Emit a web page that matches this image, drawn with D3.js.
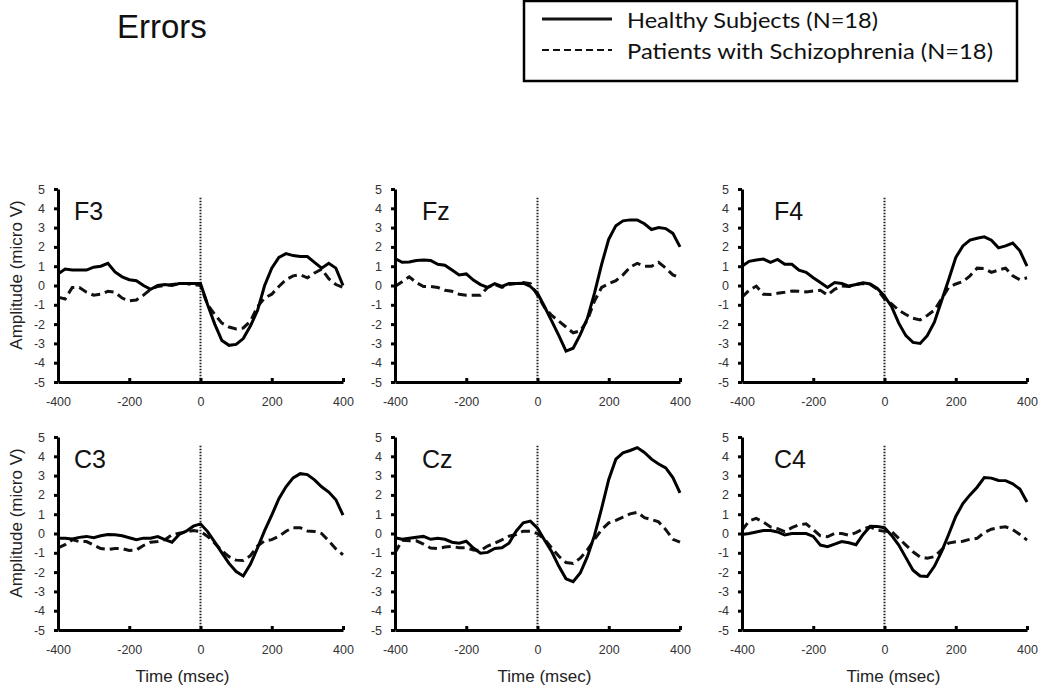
<!DOCTYPE html>
<html>
<head>
<meta charset="utf-8">
<script src="https://cdn.jsdelivr.net/npm/d3@7"></script>
<style>
  body { margin: 0; background: #fff; }
  svg { display: block; font-family: "Liberation Sans", Arial, sans-serif; }
  .axis path, .axis line { stroke: #000; stroke-width: 3; }
  .axis text { font-size: 12.5px; fill: #333; font-family: "Liberation Sans", Arial, sans-serif; }
</style>
</head>
<body>
<svg id="chart" width="1050" height="689"></svg>
<script>
// time points (msec)
var times = [-400, -380, -360, -340, -320, -300, -280, -260, -240, -220, -200,
  -180, -160, -140, -120, -100, -80, -60, -40, -20, 0,
  20, 40, 60, 80, 100, 120, 140, 160, 180, 200,
  220, 240, 260, 280, 300, 320, 340, 360, 380, 400];

// amplitudes (micro V)
var f3Healthy = [0.6, 0.85, 0.8, 0.8, 0.8, 0.95, 1.0, 1.15, 0.7, 0.45, 0.3, 0.25, 0.0, -0.2, 0.0, 0.05, 0.0, 0.1, 0.1, 0.1, 0.1,
  -1.0, -2.0, -2.85, -3.1, -3.05, -2.75, -2.1, -1.3, 0.0, 0.9, 1.45, 1.65, 1.55, 1.5, 1.5, 1.2, 0.9, 1.15, 0.9, 0.0];
var f3Patients = [-0.6, -0.7, -0.1, -0.1, -0.35, -0.5, -0.45, -0.3, -0.35, -0.65, -0.8, -0.75, -0.5, -0.2, -0.05, 0.0, 0.05, 0.1, 0.1, 0.05, 0.0,
  -1.0, -1.5, -1.95, -2.15, -2.25, -2.2, -1.85, -1.1, -0.65, -0.45, -0.05, 0.3, 0.5, 0.55, 0.4, 0.65, 0.85, 0.35, 0.05, -0.1];

var fzHealthy = [1.4, 1.2, 1.22, 1.3, 1.32, 1.3, 1.1, 1.05, 0.8, 0.55, 0.6, 0.28, 0.05, -0.1, 0.1, -0.05, 0.1, 0.1, 0.12, -0.05, -0.4,
  -1.1, -1.85, -2.6, -3.4, -3.25, -2.55, -1.7, -0.4, 1.1, 2.4, 3.1, 3.35, 3.4, 3.4, 3.2, 2.9, 3.0, 2.95, 2.7, 2.0];
var fzPatients = [-0.05, 0.2, 0.45, 0.15, -0.05, -0.05, -0.1, -0.25, -0.3, -0.45, -0.5, -0.5, -0.5, -0.1, 0.05, -0.1, 0.05, 0.1, 0.15, 0.1, -0.5,
  -1.15, -1.55, -1.85, -2.15, -2.45, -2.35, -1.8, -0.8, -0.1, 0.1, 0.25, 0.55, 0.95, 1.15, 1.0, 1.0, 1.2, 0.9, 0.55, 0.4];

var f4Healthy = [1.0, 1.25, 1.32, 1.37, 1.2, 1.35, 1.1, 1.1, 0.8, 0.68, 0.4, 0.15, -0.1, 0.15, 0.1, -0.03, 0.05, 0.14, 0.08, -0.15, -0.55,
  -1.1, -1.95, -2.6, -2.95, -3.0, -2.6, -1.9, -0.8, 0.3, 1.45, 2.05, 2.35, 2.45, 2.52, 2.35, 1.95, 2.05, 2.2, 1.8, 1.0];
var f4Patients = [-0.6, -0.25, -0.03, -0.45, -0.46, -0.4, -0.35, -0.29, -0.3, -0.33, -0.28, -0.25, -0.5, -0.2, -0.03, -0.05, 0.05, 0.1, 0.05, -0.2, -0.7,
  -0.95, -1.28, -1.5, -1.7, -1.78, -1.55, -1.28, -0.7, -0.1, 0.08, 0.2, 0.5, 0.9, 0.88, 0.68, 0.8, 0.9, 0.5, 0.3, 0.4];

var c3Healthy = [-0.24, -0.25, -0.28, -0.2, -0.15, -0.22, -0.12, -0.05, -0.07, -0.12, -0.22, -0.32, -0.24, -0.24, -0.16, -0.32, -0.45, -0.05, 0.12, 0.38, 0.5,
  0.1, -0.45, -1.0, -1.55, -1.97, -2.2, -1.6, -0.75, 0.15, 0.95, 1.8, 2.42, 2.88, 3.1, 3.05, 2.78, 2.42, 2.15, 1.75, 0.95];
var c3Patients = [-0.75, -0.58, -0.32, -0.42, -0.42, -0.6, -0.78, -0.83, -0.78, -0.78, -0.88, -0.85, -0.62, -0.45, -0.41, -0.32, -0.07, 0.02, 0.08, 0.15, 0.1,
  -0.15, -0.5, -0.9, -1.2, -1.38, -1.4, -1.15, -0.65, -0.38, -0.32, -0.15, 0.12, 0.3, 0.3, 0.13, 0.1, 0.0, -0.38, -0.8, -1.1];

var czHealthy = [-0.22, -0.3, -0.25, -0.2, -0.15, -0.3, -0.25, -0.3, -0.45, -0.5, -0.4, -0.75, -1.02, -0.98, -0.78, -0.74, -0.5, 0.12, 0.55, 0.64, 0.28,
  -0.35, -0.95, -1.7, -2.35, -2.5, -2.05, -1.2, -0.1, 1.3, 2.8, 3.85, 4.18, 4.3, 4.45, 4.2, 3.85, 3.6, 3.4, 2.9, 2.1];
var czPatients = [-1.0, -0.35, -0.38, -0.38, -0.55, -0.75, -0.78, -0.7, -0.67, -0.74, -0.74, -0.85, -0.88, -0.65, -0.5, -0.33, -0.14, -0.05, 0.12, 0.12, 0.0,
  -0.3, -0.75, -1.18, -1.5, -1.55, -1.28, -0.85, -0.3, 0.2, 0.55, 0.68, 0.85, 1.02, 1.1, 0.82, 0.72, 0.6, 0.2, -0.3, -0.45];

var c4Healthy = [-0.05, 0.0, 0.08, 0.15, 0.15, 0.08, -0.08, 0.0, 0.0, 0.0, -0.15, -0.6, -0.68, -0.55, -0.42, -0.48, -0.58, -0.05, 0.38, 0.36, 0.3,
  -0.1, -0.6, -1.25, -1.9, -2.2, -2.23, -1.7, -0.95, -0.05, 0.88, 1.55, 2.0, 2.4, 2.9, 2.87, 2.75, 2.74, 2.57, 2.3, 1.63];
var c4Patients = [0.17, 0.65, 0.78, 0.6, 0.34, 0.25, 0.1, 0.3, 0.45, 0.5, 0.2, -0.12, -0.17, 0.0, 0.0, -0.09, 0.05, 0.24, 0.34, 0.17, 0.12,
  0.1, -0.25, -0.6, -0.95, -1.22, -1.28, -1.2, -0.85, -0.5, -0.43, -0.4, -0.3, -0.25, 0.05, 0.22, 0.3, 0.35, 0.2, -0.05, -0.34];

var electrodes = ['F3', 'Fz', 'F4', 'C3', 'Cz', 'C4'];
var healthySeries = [f3Healthy, fzHealthy, f4Healthy, c3Healthy, czHealthy, c4Healthy];
var patientSeries = [f3Patients, fzPatients, f4Patients, c3Patients, czPatients, c4Patients];

var xTicks = [-400, -200, 0, 200, 400];
var yTicks = [5, 4, 3, 2, 1, 0, -1, -2, -3, -4, -5];

var titleText = 'Errors';
var legendLabels = ['Healthy Subjects (N=18)', 'Patients with Schizophrenia (N=18)'];
var yAxisTitle = 'Amplitude (micro V)';
var xAxisTitle = 'Time (msec)';

// layout
var colLeft = [58, 395, 742];
var rowTop = [189, 437];
var panelW = 285;
var panelH = 193;
var labelDx = [16, 27, 32];
var xTitleDx = [-18, 7, 9];

var svg = d3.select('#chart');

svg.append('text')
  .attr('x', 117)
  .attr('y', 38)
  .attr('font-size', 33)
  .attr('fill', '#111')
  .text(titleText);

// legend
var legend = svg.append('g');

legend.append('rect')
  .attr('x', 524)
  .attr('y', 1)
  .attr('width', 493)
  .attr('height', 80)
  .attr('fill', '#fff')
  .attr('stroke', '#000')
  .attr('stroke-width', 2.5);

legend.selectAll('line.key')
  .data(legendLabels)
  .enter()
  .append('line')
  .attr('class', 'key')
  .attr('x1', 542)
  .attr('x2', 612)
  .attr('y1', function(d, i) { return 19 + i * 31; })
  .attr('y2', function(d, i) { return 19 + i * 31; })
  .attr('stroke', '#111')
  .attr('stroke-width', function(d, i) { return i === 0 ? 3 : 2; })
  .attr('stroke-dasharray', function(d, i) { return i === 0 ? null : '7,4'; });

legend.selectAll('text')
  .data(legendLabels)
  .enter()
  .append('text')
  .attr('x', 627)
  .attr('y', function(d, i) { return 28 + i * 31; })
  .attr('font-family', 'Lato, "Liberation Sans", sans-serif')
  .attr('font-size', 22)
  .attr('fill', '#111')
  .attr('textLength', function(d, i) { return i === 0 ? 251 : 366; })
  .attr('lengthAdjust', 'spacingAndGlyphs')
  .text(function(d) { return d; });

// panels
electrodes.forEach(function(name, i) {
  var col = i % 3;
  var row = Math.floor(i / 3);

  var g = svg.append('g')
    .attr('transform', 'translate(' + colLeft[col] + ',' + rowTop[row] + ')');

  var x = d3.scaleLinear().domain([-400, 400]).range([0, panelW]);
  var y = d3.scaleLinear().domain([-5, 5]).range([panelH, 0]);

  var line = d3.line()
    .x(function(d, j) { return x(times[j]); })
    .y(function(d) { return y(d); });

  // stimulus onset
  g.append('line')
    .attr('x1', x(0))
    .attr('x2', x(0))
    .attr('y1', y(4.55))
    .attr('y2', y(-5))
    .attr('stroke', '#222')
    .attr('stroke-width', 2)
    .attr('stroke-dasharray', '1.5,1.5');

  g.append('path')
    .datum(patientSeries[i])
    .attr('d', line)
    .attr('fill', 'none')
    .attr('stroke', '#111')
    .attr('stroke-width', 3)
    .attr('stroke-dasharray', '9,5');

  g.append('path')
    .datum(healthySeries[i])
    .attr('d', line)
    .attr('fill', 'none')
    .attr('stroke', '#000')
    .attr('stroke-width', 3);

  var xAxis = d3.axisBottom(x)
    .tickValues(xTicks)
    .tickSizeInner(-4)
    .tickSizeOuter(0)
    .tickPadding(15)
    .tickFormat(function(d) { return String(d); });

  var yAxis = d3.axisLeft(y)
    .tickValues(yTicks)
    .tickSizeInner(4)
    .tickSizeOuter(0)
    .tickPadding(9)
    .tickFormat(function(d) { return String(d); });

  g.append('g')
    .attr('class', 'axis axis--x')
    .attr('transform', 'translate(0,' + panelH + ')')
    .call(xAxis);

  g.append('g')
    .attr('class', 'axis axis--y')
    .call(yAxis);

  g.append('text')
    .attr('x', labelDx[col])
    .attr('y', 31)
    .attr('font-size', 25)
    .attr('fill', '#111')
    .text(name);

  if (col === 0) {
    svg.append('text')
      .attr('transform', 'translate(22,' + (rowTop[row] + 86) + ') rotate(-90)')
      .attr('text-anchor', 'middle')
      .attr('font-size', 17)
      .attr('fill', '#222')
      .text(yAxisTitle);
  }

  if (row === 1) {
    g.append('text')
      .attr('x', panelW / 2 + xTitleDx[col])
      .attr('y', 245)
      .attr('text-anchor', 'middle')
      .attr('font-size', 17)
      .attr('fill', '#222')
      .text(xAxisTitle);
  }
});
</script>
</body>
</html>
